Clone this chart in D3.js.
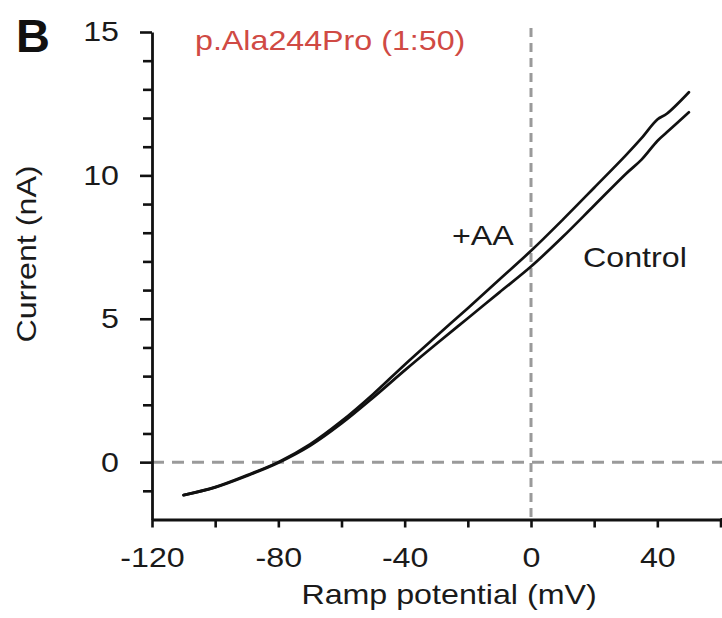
<!DOCTYPE html>
<html>
<head>
<meta charset="utf-8">
<script src="https://cdn.jsdelivr.net/npm/d3@7"></script>
<style>
  body { margin: 0; background: #fff; }
  text { font-family: "Liberation Sans", Arial, sans-serif; }
</style>
</head>
<body>
<svg></svg>
<script>
// ramp potential (mV) and the two I-V traces (nA)
const voltage = [-110, -100, -90, -80, -70, -60, -50, -40, -30, -20, -10, 0, 10, 20, 30, 35, 40, 43, 50];
const control = [-1.15, -0.88, -0.48, -0.02, 0.57, 1.35, 2.25, 3.2, 4.12, 5.02, 5.92, 6.82, 7.85, 8.95, 10.05, 10.55, 11.2, 11.5, 12.2];
const plusAA = [-1.15, -0.87, -0.46, 0.0, 0.62, 1.43, 2.37, 3.4, 4.39, 5.37, 6.37, 7.37, 8.45, 9.57, 10.7, 11.3, 11.95, 12.15, 12.9];

const xMajor = [-120, -80, -40, 0, 40];
const xMinor = [-100, -60, -20, 20, 60];
const yMajor = [0, 5, 10, 15];
const yMinor = [-1, 1, 2, 3, 4, 6, 7, 8, 9, 11, 12, 13, 14];

const width = 722;
const height = 618;
const STRETCH = 1.15; // the figure's lettering is a little wider than Arial

const svg = d3.select("svg").attr("width", width).attr("height", height);

const x = d3.scaleLinear().domain([-120, 60]).range([152, 720.5]);
const y = d3.scaleLinear().domain([-2, 15]).range([519.5, 32]);

// widen a text element horizontally
function stretch(sel, k) {
  sel.each(function () {
    const len = this.getComputedTextLength();
    d3.select(this).attr("textLength", len * k).attr("lengthAdjust", "spacingAndGlyphs");
  });
}

// dashed zero lines
svg.append("line")
  .attr("x1", x(-120)).attr("x2", width)
  .attr("y1", y(0)).attr("y2", y(0))
  .attr("stroke", "#9a9a9a").attr("stroke-width", 3)
  .attr("stroke-dasharray", "12,8");
svg.append("line")
  .attr("x1", x(0)).attr("x2", x(0))
  .attr("y1", 28).attr("y2", y(-2))
  .attr("stroke", "#9a9a9a").attr("stroke-width", 3)
  .attr("stroke-dasharray", "9,6");

// axes
const fmt = (d) => String(d); // plain hyphen minus, as in the figure
const yMinorAxis = svg.append("g")
  .attr("transform", `translate(${x(-120)},0)`)
  .call(d3.axisLeft(y).tickValues(yMinor).tickSize(9).tickFormat(""));
const yAxis = svg.append("g")
  .attr("transform", `translate(${x(-120)},0)`)
  .call(d3.axisLeft(y).tickValues(yMajor).tickSize(12).tickSizeOuter(0).tickPadding(21).tickFormat(fmt));
const xMinorAxis = svg.append("g")
  .attr("transform", `translate(0,${y(-2)})`)
  .call(d3.axisBottom(x).tickValues(xMinor).tickSize(8).tickFormat(""));
const xAxis = svg.append("g")
  .attr("transform", `translate(0,${y(-2)})`)
  .call(d3.axisBottom(x).tickValues(xMajor).tickSize(8).tickSizeOuter(0).tickPadding(20).tickFormat(fmt));

[yMinorAxis, yAxis, xMinorAxis, xAxis].forEach((g) => {
  g.selectAll(".domain").attr("stroke", "#111").attr("stroke-width", 2.8);
  g.selectAll(".tick line").attr("stroke", "#111").attr("stroke-width", 2.6);
  g.selectAll(".tick text").attr("font-size", 28).attr("font-family", "Liberation Sans, Arial, sans-serif").attr("fill", "#1a1a1a");
});
xMinorAxis.select(".domain").remove();
yMinorAxis.select(".domain").remove();
svg.selectAll(".tick text").call(stretch, STRETCH);
// run the x axis line out to the right edge like the figure
xAxis.append("line")
  .attr("x1", x(60)).attr("x2", width)
  .attr("stroke", "#111").attr("stroke-width", 2.8);

// traces
const line = d3.line()
  .x((d) => x(d[0]))
  .y((d) => y(d[1]))
  .curve(d3.curveCatmullRom);

[control, plusAA].forEach((series) => {
  svg.append("path")
    .datum(voltage.map((v, i) => [v, series[i]]))
    .attr("fill", "none")
    .attr("stroke", "#111")
    .attr("stroke-width", 2.7)
    .attr("stroke-linejoin", "round")
    .attr("stroke-linecap", "round")
    .attr("d", line);
});

// labels
svg.append("text")
  .attr("x", 16).attr("y", 52)
  .attr("font-size", 47).attr("font-weight", "bold").attr("fill", "#111")
  .text("B");

svg.append("text")
  .attr("x", 195).attr("y", 50)
  .attr("font-size", 28).attr("fill", "#d04a44")
  .text("p.Ala244Pro (1:50)")
  .call(stretch, STRETCH);

svg.append("text")
  .attr("x", 452).attr("y", 245)
  .attr("font-size", 28).attr("fill", "#1a1a1a")
  .text("+AA")
  .call(stretch, STRETCH);

svg.append("text")
  .attr("x", 583).attr("y", 267)
  .attr("font-size", 28).attr("fill", "#1a1a1a")
  .text("Control")
  .call(stretch, STRETCH);

svg.append("text")
  .attr("text-anchor", "middle")
  .attr("transform", "translate(449,604)")
  .attr("font-size", 28).attr("fill", "#1a1a1a")
  .text("Ramp potential (mV)")
  .call(stretch, STRETCH);

svg.append("text")
  .attr("text-anchor", "middle")
  .attr("transform", "translate(36,254) rotate(-90)")
  .attr("font-size", 28).attr("fill", "#1a1a1a")
  .text("Current (nA)")
  .call(stretch, STRETCH);
</script>
</body>
</html>
